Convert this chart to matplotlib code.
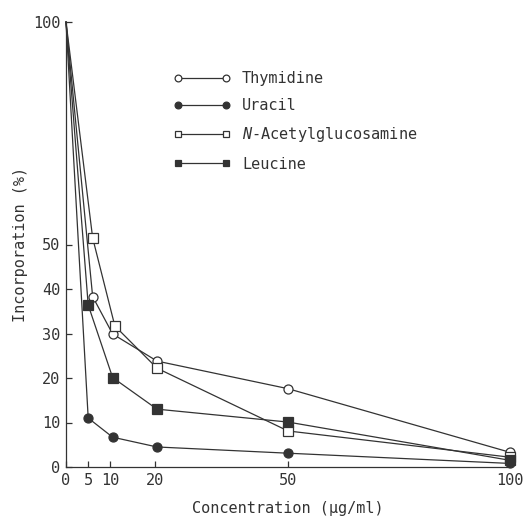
import matplotlib.pyplot as plt

plt.rcParams['font.family'] = 'DejaVu Sans Mono'
plt.rcParams['mathtext.fontset'] = 'custom'
plt.rcParams['mathtext.it'] = 'DejaVu Sans Mono:italic'
plt.rcParams['mathtext.rm'] = 'DejaVu Sans Mono'

# data (concentration in ug/ml, incorporation in %)
thymidine_x = [0, 6, 10.5, 20.5, 50, 100]
thymidine_y = [100, 38.3, 29.9, 23.8, 17.6, 3.3]

uracil_x = [0, 5, 10.5, 20.5, 50, 100]
uracil_y = [100, 11.0, 6.7, 4.5, 3.1, 0.8]

nag_x = [0, 6, 11, 20.5, 50, 100]
nag_y = [100, 51.5, 31.7, 22.2, 8.1, 2.2]

leucine_x = [0, 5, 10.5, 20.5, 50, 100]
leucine_y = [100, 36.4, 20.1, 13.0, 10.1, 1.5]

x_ticks = [0, 5, 10, 20, 50, 100]
y_ticks = [0, 10, 20, 30, 40, 50, 100]

fig = plt.figure(figsize=(5.31, 5.18), dpi=100)
ax = fig.add_axes([66 / 531, 51 / 518, 444 / 531, 445 / 518])

col = '#333333'
txt = '#333333'
common = dict(color=col, lw=0.9, markersize=6.5, markeredgewidth=0.9,
              markeredgecolor=col, clip_on=False, markevery=list(range(1, 6)))

ax.plot(thymidine_x, thymidine_y, marker='o', markerfacecolor='white',
        label='Thymidine', **common)
ax.plot(uracil_x, uracil_y, marker='o', markerfacecolor=col,
        label='Uracil', **common)
ax.plot(nag_x, nag_y, marker='s', markerfacecolor='white',
        label=r'$\it{N}$-Acetylglucosamine', **common)
ax.plot(leucine_x, leucine_y, marker='s', markerfacecolor=col,
        label='Leucine', **common)

ax.set_xlim(0, 100)
ax.set_ylim(0, 100)
ax.set_xticks(x_ticks)
ax.set_yticks(y_ticks)
ax.tick_params(direction='in', length=4, width=0.9, colors=col,
               labelsize=11, labelcolor=txt, pad=4)
for s in ['top', 'right']:
    ax.spines[s].set_visible(False)
for s in ['left', 'bottom']:
    ax.spines[s].set_color(col)
    ax.spines[s].set_linewidth(0.9)

ax.set_xlabel('Concentration (µg/ml)', fontsize=11, color=txt, labelpad=10)
ax.set_ylabel('Incorporation (%)', fontsize=11, color=txt, labelpad=4)

ax.legend(loc='upper left', bbox_to_anchor=(0.243, 0.89), frameon=False,
          fontsize=11, numpoints=2, handlelength=3.7, handletextpad=0.75,
          labelspacing=0.8, borderpad=0, borderaxespad=0, markerscale=0.75,
          labelcolor=txt)

fig.savefig('out.png', dpi=100)
